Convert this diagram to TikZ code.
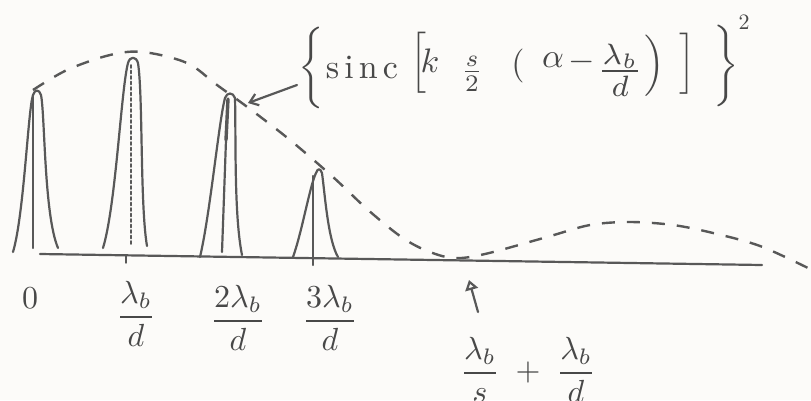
\documentclass[tikz,border=0pt]{standalone}
\usepackage{graphicx}
\usetikzlibrary{arrows.meta}
\definecolor{paper}{RGB}{252,251,249}
\definecolor{pen}{RGB}{88,88,88}
\definecolor{ink}{RGB}{72,72,72}
\newcommand{\hbig}[1]{\scalebox{3.4}{#1}}
\newcommand{\hmid}[1]{\scalebox{3.2}{#1}}
\newcommand{\hsml}[1]{\scalebox{2.2}{#1}}
\tikzset{
  pen/.style={draw=pen, line width=2.2pt, line cap=round, line join=round},
  env/.style={draw=pen, line width=2.4pt, dash pattern=on 13pt off 12pt},
  lbl/.style={text=ink, inner sep=0pt},
}
\begin{document}
\begin{tikzpicture}[x=1pt,y=-1pt]
\fill[paper] (0,0) rectangle (811,400);
\useasboundingbox (0,0) rectangle (811,400);
\clip (0,0) rectangle (811,400);

% axis
\coordinate (axL) at (40,254);
\coordinate (axR) at (762,265);
\draw[pen] (axL) -- (axR);
\coordinate (tk1) at (126,255);
\coordinate (tk2) at (126,263);
\draw[pen, line width=1.4pt] (tk1) -- (tk2);

% peaks
\draw[pen] (13,252) .. controls (24,215) and (28,110) .. (33,95)
  .. controls (35,89) and (39,89) .. (41,95)
  .. controls (45,115) and (44,215) .. (58,248);
\draw[pen] (33,97) -- (33,248);

\draw[pen] (103,248) .. controls (116,205) and (121,90) .. (128,63)
  .. controls (130,56) and (136,56) .. (138,63)
  .. controls (143,95) and (140,205) .. (147,246);
\draw[pen, line width=1.6pt, dash pattern=on 3pt off 2.5pt] (131,65) -- (131,244);

\draw[pen] (200,257) .. controls (210,215) and (219,120) .. (225,98)
  .. controls (227,92) and (233,92) .. (235,98)
  .. controls (236,140) and (234,215) .. (242,255);
\draw[pen, line width=3.4pt] (228,99) -- (226,140);
\draw[pen] (226,140) -- (222,252);

\draw[pen] (293,257) .. controls (302,232) and (310,185) .. (316,173)
  .. controls (318,168) and (320,168) .. (322,173)
  .. controls (325,195) and (328,240) .. (338,257);
\draw[pen] (313,176) -- (313,265);

% envelope
\draw[env] plot[smooth, tension=0.55] coordinates {
  (33,90) (67,70) (110,55) (143,52) (187,63) (217,85) (250,109)
  (290,140) (333,177) (367,209) (400,236) (425,250) (453,258)
  (485,254) (547,237) (590,225) (630,222) (673,225) (713,233)
  (760,246) (808,268)};

% formula
\node[lbl] (lbrace) at (313,68) {\hbig{$\left\{\rule[-9.4pt]{0pt}{18.8pt}\right.$}};
\node[lbl, anchor=base] (sinc) at (362,78) {\hbig{s\kern1.5pt i\kern1.5pt n\kern1.5pt c}};
\node[lbl] (lbrack) at (421,63) {\hbig{$\left[\rule[-6.5pt]{0pt}{13pt}\right.$}};
\node[lbl, anchor=base] (kk) at (430,72) {\hbig{$k$}};
\node[lbl] (shalf) at (472,74) {\hbig{$\textstyle\frac{s}{2}$}};
\node[lbl] (lpar) at (518,66) {\hbig{$($}};
\node[lbl, anchor=base] (alpha) at (553,67) {\hbig{$\alpha$}};
\node[lbl] (minus) at (582,62) {\hbig{$-$}};
\node[lbl] (lbd) at (620,70) {\scalebox{4.2}{$\textstyle\frac{\lambda_b}{d}$}};
\node[lbl] (rpar) at (653,66) {\hbig{$\left.\rule[-5.3pt]{0pt}{10.6pt}\right)$}};
\node[lbl] (rbrack) at (685,65) {\hbig{$\left.\rule[-7.1pt]{0pt}{14.2pt}\right]$}};
\node[lbl] (rbrace) at (724,66) {\hbig{$\left.\rule[-8.2pt]{0pt}{16.4pt}\right\}$}};
\node[lbl] (sq) at (744,22) {\hsml{$2$}};

\coordinate (atail) at (297,85);
\coordinate (ahead) at (248,103);
\draw[pen, -{Straight Barb[length=8pt,width=12pt]}] (atail) -- (ahead);

% axis labels
\node[lbl] (l0) at (30,298) {\hmid{$0$}};
\node[lbl] (l1) at (136,314) {\hmid{$\displaystyle\frac{\lambda_b}{d}$}};
\node[lbl] (l2) at (238,318) {\hmid{$\displaystyle\frac{2\lambda_b}{d}$}};
\node[lbl] (l3) at (330,318) {\hmid{$\displaystyle\frac{3\lambda_b}{d}$}};

\coordinate (mtail) at (478,312);
\coordinate (mhead) at (469,280);
\draw[pen, -{Triangle[open,length=10pt,width=13pt]}] (mtail) -- (mhead);

\node[lbl] (lmin) at (528,370) {\hmid{$\displaystyle\frac{\lambda_b}{s}\;+\;\frac{\lambda_b}{d}$}};
\end{tikzpicture}
\end{document}
